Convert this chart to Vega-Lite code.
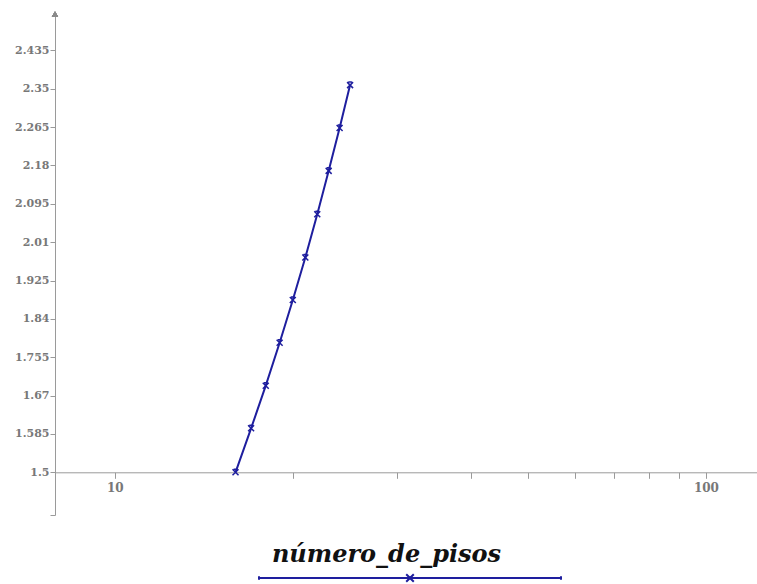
{
  "$schema": "https://vega.github.io/schema/vega-lite/v6.json",
  "autosize": {"type": "none"},
  "padding": {"left": 55, "top": 12, "right": 0, "bottom": 69},
  "width": 702,
  "height": 503,
  "background": "white",
  "config": {
    "view": {"stroke": null},
    "axis": {
      "grid": false,
      "domainColor": "#9a9a9a",
      "tickColor": "#9a9a9a",
      "labelColor": "#787878",
      "labelFont": "DejaVu Serif",
      "labelFontWeight": "bold",
      "labelFontSize": 11
    }
  },
  "data": {
    "values": [
      {"n": 16, "t": 1.5},
      {"n": 17, "t": 1.5975},
      {"n": 18, "t": 1.692},
      {"n": 19, "t": 1.787},
      {"n": 20, "t": 1.882},
      {"n": 21, "t": 1.976},
      {"n": 22, "t": 2.072},
      {"n": 23, "t": 2.168},
      {"n": 24, "t": 2.263},
      {"n": 25, "t": 2.358}
    ]
  },
  "layer": [
    {
      "mark": {
        "type": "line",
        "strokeWidth": 2,
        "clip": false,
        "point": {
          "shape": "M-1,-1L1,1M-1,1L1,-1M-0.6,-1H0.6",
          "filled": false,
          "size": 36,
          "strokeWidth": 1.5
        }
      },
      "encoding": {
        "x": {
          "field": "n",
          "type": "quantitative",
          "scale": {"type": "log", "domain": [7.92, 122], "nice": false},
          "axis": {
            "offset": -42.7,
            "values": [10, 20, 30, 40, 50, 60, 70, 80, 90, 100],
            "labelExpr": "datum.value == 10 || datum.value == 100 ? datum.label : ''",
            "labelFontSize": 12,
            "tickSize": 6,
            "labelPadding": 4,
            "title": "número_de_pisos",
            "titleFont": "DejaVu Serif",
            "titleFontStyle": "italic",
            "titleFontWeight": "bold",
            "titleFontSize": 24,
            "titleColor": "#111111",
            "titleX": 331,
            "titleY": 89,
            "titleAlign": "center",
            "titleBaseline": "alphabetic"
          }
        },
        "y": {
          "field": "t",
          "type": "quantitative",
          "scale": {"domain": [1.4054, 2.52], "nice": false, "zero": false},
          "axis": {
            "values": [1.4054, 1.5, 1.585, 1.67, 1.755, 1.84, 1.925, 2.01, 2.095, 2.18, 2.265, 2.35, 2.435],
            "labelExpr": "datum.value < 1.45 ? '' : format(datum.value, '.3~f')",
            "tickSize": 5,
            "labelPadding": 1,
            "title": null
          }
        },
        "color": {
          "datum": "número_de_pisos",
          "scale": {"range": ["#1e1e9e"]},
          "legend": {
            "orient": "none",
            "legendX": 203,
            "legendY": 414,
            "title": null,
            "labelExpr": "''",
            "labelFontSize": 1,
            "labelOffset": 0,
            "symbolType": "M-1,0H1M-1,-0.012V0.012M1,-0.012V0.012M-0.025,-0.025L0.025,0.025M-0.025,0.025L0.025,-0.025",
            "symbolSize": 91204,
            "symbolStrokeWidth": 2,
            "symbolFillColor": "transparent"
          }
        }
      }
    },
    {
      "mark": {"type": "point", "shape": "triangle-up", "filled": true, "color": "#8a8a8a", "size": 40, "clip": false, "opacity": 1},
      "encoding": {
        "x": {"datum": 7.92, "type": "quantitative"},
        "y": {"datum": 2.515, "type": "quantitative"}
      }
    }
  ]
}
